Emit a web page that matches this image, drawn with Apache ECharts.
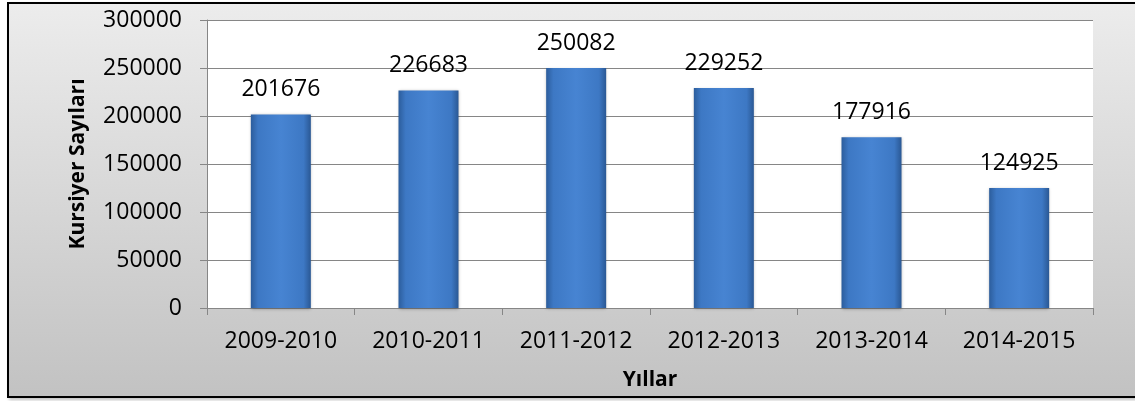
<!DOCTYPE html>
<html>
<head>
<meta charset="utf-8">
<script src="https://cdn.jsdelivr.net/npm/echarts@6/dist/echarts.min.js"></script>
<style>
html,body{margin:0;padding:0;width:1135px;height:401px;overflow:hidden;background:#fff;}
#bg{position:absolute;left:7px;top:2px;width:1130px;height:392px;border:2px solid #000;
background:linear-gradient(#ececec,#c2c2c2);box-shadow:2px 2px 3px rgba(0,0,0,0.25);}
#chart{position:absolute;left:0;top:0;width:1135px;height:401px;}
</style>
</head>
<body>
<div id="bg"></div>
<div id="chart"></div>
<script>
const categories = ['2009-2010','2010-2011','2011-2012','2012-2013','2013-2014','2014-2015'];
const values = [201676, 226683, 250082, 229252, 177916, 124925];
const yTicks = {min:0, max:300000, interval:50000};
const FONT = 'Open Sans';

const chart = echarts.init(document.getElementById('chart'), null, {renderer:'canvas'});
chart.setOption({
  animation:false,
  textStyle:{fontFamily:FONT},
  grid:{left:207,right:42,top:20,bottom:93,show:true,backgroundColor:'#fff',borderWidth:0},
  xAxis:{
    type:'category', data:categories,
    name:'Yıllar', nameLocation:'middle', nameGap:62,
    nameTextStyle:{fontFamily:FONT,fontWeight:'bold',fontSize:21,color:'#000'},
    axisLine:{lineStyle:{color:'#868686',width:1}},
    axisTick:{show:true,length:7,lineStyle:{color:'#868686'}},
    axisLabel:{fontFamily:FONT,fontSize:23,color:'#000',margin:22}
  },
  yAxis:{
    type:'value', min:yTicks.min, max:yTicks.max, interval:yTicks.interval,
    name:'Kursiyer Sayıları', nameLocation:'middle', nameGap:118, nameRotate:90,
    nameTextStyle:{fontFamily:FONT,fontWeight:'bold',fontSize:21,color:'#000'},
    axisLine:{show:true,lineStyle:{color:'#868686',width:1}},
    axisTick:{show:true,length:7,lineStyle:{color:'#868686'}},
    splitLine:{lineStyle:{color:'#868686',width:1}},
    axisLabel:{fontFamily:FONT,fontSize:23,color:'#000',margin:25,formatter:v=>String(v)}
  },
  series:[{
    type:'bar', data:values, barWidth:60,
    itemStyle:{
      color:new echarts.graphic.LinearGradient(0,0,1,0,[
        {offset:0,color:'#2c5d9c'},
        {offset:0.12,color:'#3d78c4'},
        {offset:0.5,color:'#4784d2'},
        {offset:0.88,color:'#3d78c4'},
        {offset:1,color:'#2a5894'}
      ]),
      shadowColor:'rgba(0,0,0,0.3)', shadowBlur:3, shadowOffsetY:1
    },
    label:{show:true,position:'top',distance:13,fontFamily:FONT,fontSize:23,color:'#000'}
  }]
});
</script>
</body>
</html>
